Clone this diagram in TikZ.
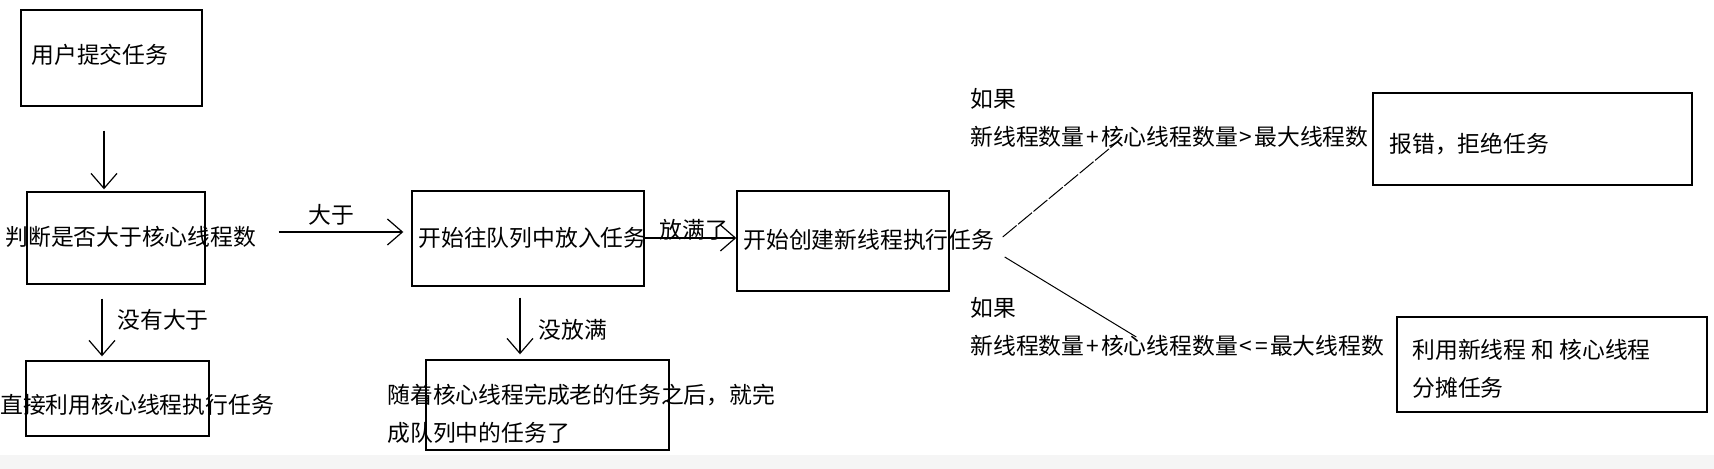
\documentclass[tikz,border=0pt]{standalone}
\usepackage{fontspec}
\newfontfamily\cjk{Noto Sans CJK SC}
\usetikzlibrary{arrows.meta, positioning}

\begin{document}
\begin{tikzpicture}[
    x=0.5pt, y=-0.5pt,
    box/.style={draw, line width=0.7pt, inner sep=0pt},
    txt/.style={font=\cjk\fontsize{11.4}{19}\selectfont, inner sep=0pt, anchor=west, align=left},
    arrow/.style={-{Straight Barb[length=7.5pt, width=13pt]}, line width=0.6pt},
    branch/.style={line width=0.5pt},
]
    \useasboundingbox (0,0) rectangle (1714,469);
    \fill[black!4] (0,455) rectangle (1714,469);

    % Boxes
    \node[box, minimum width=90.5pt, minimum height=48pt] (submit) at (111.5, 58) {};
    \node[box, minimum width=89pt, minimum height=46pt] (judge) at (116, 238) {};
    \node[box, minimum width=91.5pt, minimum height=37.5pt] (direct) at (117.5, 398.5) {};
    \node[box, minimum width=116pt, minimum height=47.5pt] (queue) at (528, 238.5) {};
    \node[box, minimum width=121.5pt, minimum height=45pt] (wait) at (547.5, 405) {};
    \node[box, minimum width=106pt, minimum height=50pt] (create) at (843, 241) {};
    \node[box, minimum width=159.5pt, minimum height=46pt] (reject) at (1532.5, 139) {};
    \node[box, minimum width=155pt, minimum height=47.5pt] (share) at (1552, 364.5) {};

    % Texts
    \node[txt] (submit-t) at (31, 55) {用户提交任务};
    \node[txt] (judge-t) at (5, 237) {判断是否大于核心线程数};
    \node[txt] (direct-t) at (0, 405) {直接利用核心线程执行任务};
    \node[txt] (queue-t) at (418, 238) {开始往队列中放入任务};
    \node[txt] (wait-t) at (387, 413.5) {随着核心线程完成老的任务之后，就完\\成队列中的任务了};
    \node[txt] (create-t) at (743, 240) {开始创建新线程执行任务};
    \node[txt] (reject-t) at (1389, 144) {报错，拒绝任务};
    \node[txt] (share-t) at (1412, 369) {利用新线程 和 核心线程\\分摊任务};

    % Labels
    \node[txt] (gt) at (308, 215) {大于};
    \node[txt] (notgt) at (117, 320) {没有大于};
    \node[txt] (full) at (659, 230) {放满了};
    \node[txt] (notfull) at (538, 330) {没放满};
    \node[txt] (ucond) at (970, 117.5) {如果\\新线程数量\kern1pt+\kern1pt核心线程数量\kern1pt>\kern1pt最大线程数};
    \node[txt] (lcond) at (970, 326.5) {如果\\新线程数量\kern1pt+\kern1pt核心线程数量\kern1pt<\kern1.5pt=\kern1pt最大线程数};

    % Arrows
    \draw[arrow] ([xshift=-3.75pt, yshift=-12pt]submit.south) -- ([xshift=-6pt, yshift=1pt]judge.north);
    \draw[arrow] ([xshift=36.5pt, yshift=3pt]judge.east) -- ([xshift=-4pt, yshift=3.25pt]queue.west);
    \draw[arrow] ([xshift=-7pt, yshift=-7pt]judge.south) -- ([xshift=-7.75pt, yshift=2pt]direct.north);
    \draw[arrow] ([yshift=0.25pt]queue.east) -- ([yshift=1.5pt]create.west);
    \draw[arrow] ([xshift=-4pt, yshift=-5.5pt]queue.south) -- ([xshift=-13.75pt, yshift=2.5pt]wait.north);
    \draw[branch, dash pattern=on 9pt off 1pt] ([xshift=26.5pt, yshift=2pt]create.east) -- ([xshift=-127.5pt, yshift=-1.5pt]reject.west);
    \draw[branch] ([xshift=27.5pt, yshift=-8pt]create.east) -- ([xshift=-130pt, yshift=13.75pt]share.west);

\end{tikzpicture}
\end{document}
